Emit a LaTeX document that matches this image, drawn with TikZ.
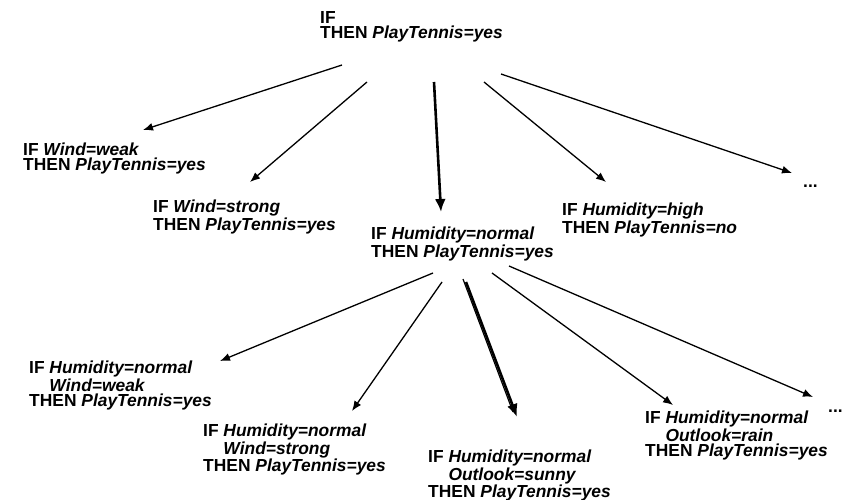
\documentclass[tikz,border=0pt]{standalone}
\usepackage{fontspec}
\setmainfont{Liberation Sans}
\usetikzlibrary{arrows.meta}
\newcommand{\ruletext}{\fontsize{17.4}{15}\selectfont\bfseries}
\newcommand{\att}[1]{\textit{#1}}
\newcommand{\pad}{\phantom{IF }}

\begin{document}
\begin{tikzpicture}[x=1pt,y=1pt,>={Latex[length=10pt,width=8pt]}]
\tikzset{rule/.style={anchor=north west,inner sep=0pt,align=left,font=\ruletext},
  arr/.style={->,line width=1.3pt},
  bigarr/.style={->,line width=2.6pt,>={Latex[length=13pt,width=11pt]}}}
\useasboundingbox (0,0) rectangle (843,-500);
% first level
\node[rule] (root) at (320,-11) {IF\\THEN \att{PlayTennis=yes}};
\node[rule] (windweak) at (23,-143) {IF \att{Wind=weak}\\THEN \att{PlayTennis=yes}};
\node[rule] (windstrong) at (153,-200) {IF \att{Wind=strong}\\THEN \att{PlayTennis=yes}};
\node[rule] (humnormal) at (371,-227) {IF \att{Humidity=normal}\\THEN \att{PlayTennis=yes}};
\node[rule] (humhigh) at (562,-203) {IF \att{Humidity=high}\\THEN \att{PlayTennis=no}};
\node[anchor=base west,inner sep=0pt,font=\ruletext] (moreA) at (803,-187) {...};
% second level
\node[rule] (hnweak) at (29,-361) {IF \att{Humidity=normal}\\\pad\att{Wind=weak}\\THEN \att{PlayTennis=yes}};
\node[rule] (hnstrong) at (203,-424) {IF \att{Humidity=normal}\\\pad\att{Wind=strong}\\THEN \att{PlayTennis=yes}};
\node[rule] (hnsunny) at (428,-450) {IF \att{Humidity=normal}\\\pad\att{Outlook=sunny}\\THEN \att{PlayTennis=yes}};
\node[rule] (hnrain) at (645,-411) {IF \att{Humidity=normal}\\\pad\att{Outlook=rain}\\THEN \att{PlayTennis=yes}};
\node[anchor=base west,inner sep=0pt,font=\ruletext] (moreB) at (828,-412) {...};
% arrows from the root
\draw[arr] ([shift={(22,-54)}]root.north west) -- ([shift={(120,13)}]windweak.north west);
\draw[arr] ([shift={(47,-71)}]root.north west) -- ([shift={(97,18)}]windstrong.north west);
\draw[bigarr] ([shift={(114,-71)}]root.north west) -- ([shift={(70,15)}]humnormal.north west);
\draw[arr] ([shift={(164,-71)}]root.north west) -- ([shift={(44,21)}]humhigh.north west);
\draw[arr] ([shift={(181,-63)}]root.north west) -- ([shift={(-11,14)}]moreA.base west);
% arrows from Humidity=normal
\draw[arr] ([shift={(62,-46)}]humnormal.north west) -- ([shift={(191,0)}]hnweak.north west);
\draw[arr] ([shift={(71,-55)}]humnormal.north west) -- ([shift={(149,13)}]hnstrong.north west);
\draw[line width=1.2pt] ([shift={(92,-52)}]humnormal.north west) -- ([shift={(85,38)}]hnsunny.north west);
\draw[bigarr] ([shift={(95,-55)}]humnormal.north west) -- ([shift={(89,33)}]hnsunny.north west);
\draw[arr] ([shift={(121,-46)}]humnormal.north west) -- ([shift={(28,6)}]hnrain.north west);
\draw[arr] ([shift={(138,-39)}]humnormal.north west) -- ([shift={(-15,15)}]moreB.base west);
\end{tikzpicture}
\end{document}
